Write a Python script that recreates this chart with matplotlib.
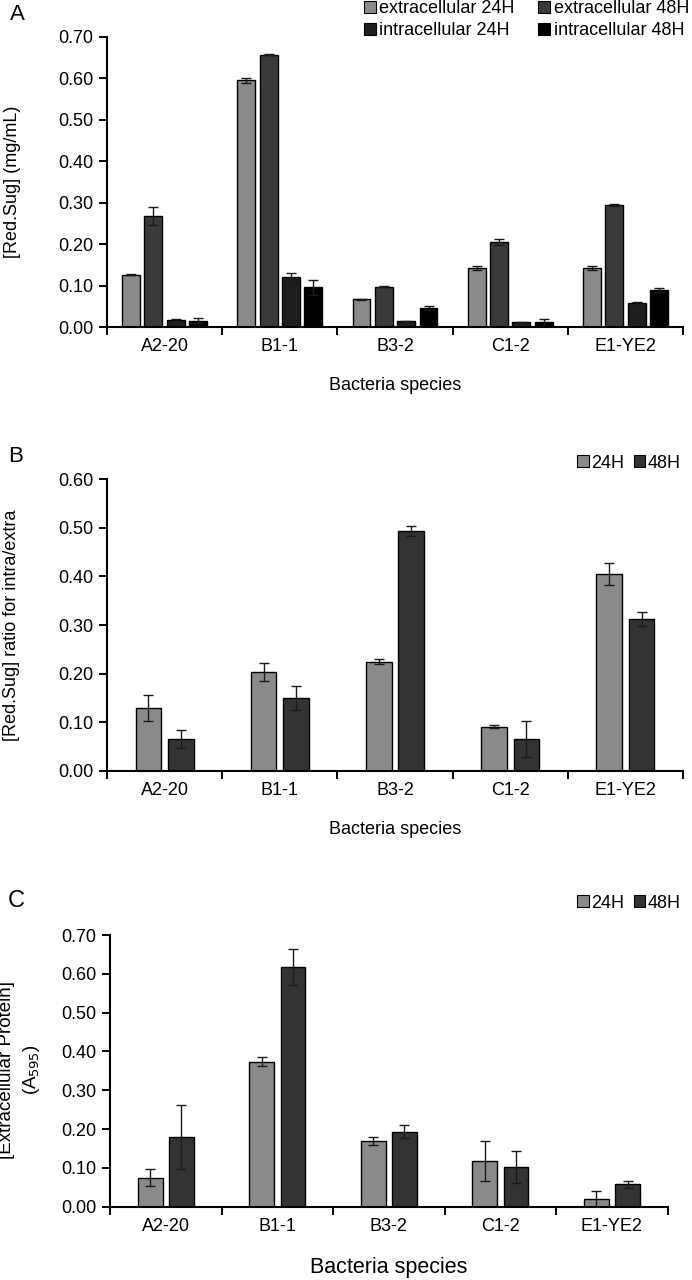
import matplotlib
matplotlib.use("Agg")
import matplotlib.pyplot as plt
import numpy as np
from matplotlib.patches import Patch
from matplotlib.ticker import FormatStrFormatter

plt.rcParams['font.family'] = ['Liberation Sans', 'DejaVu Sans']

species = ["A2-20", "B1-1", "B3-2", "C1-2", "E1-YE2"]

# Panel A: reducing sugar (mg/mL)
a_labels = ["extracellular 24H", "extracellular 48H", "intracellular 24H", "intracellular 48H"]
a_ext24 = [0.127, 0.595, 0.067, 0.143, 0.143]
a_ext48 = [0.268, 0.657, 0.098, 0.205, 0.294]
a_int24 = [0.017, 0.120, 0.014, 0.012, 0.058]
a_int48 = [0.016, 0.096, 0.046, 0.012, 0.089]
a_ext24_err = [0.002, 0.006, 0.002, 0.004, 0.004]
a_ext48_err = [0.022, 0.002, 0.002, 0.007, 0.003]
a_int24_err = [0.003, 0.011, 0.001, 0.001, 0.002]
a_int48_err = [0.005, 0.018, 0.004, 0.008, 0.005]

# Panel B: ratio intra/extra
b_labels = ["24H", "48H"]
b_24 = [0.129, 0.203, 0.224, 0.091, 0.405]
b_48 = [0.065, 0.150, 0.494, 0.065, 0.312]
b_24_err = [0.026, 0.019, 0.005, 0.004, 0.023]
b_48_err = [0.018, 0.025, 0.010, 0.037, 0.014]

# Panel C: extracellular protein (A595)
c_24 = [0.075, 0.374, 0.169, 0.118, 0.020]
c_48 = [0.179, 0.618, 0.193, 0.102, 0.058]
c_24_err = [0.022, 0.012, 0.011, 0.051, 0.021]
c_48_err = [0.082, 0.046, 0.017, 0.041, 0.009]

W, H = 692, 1280
fig = plt.figure(figsize=(W / 100, H / 100), dpi=100)

def axrect(l, r, t, b):
    return [l / W, 1 - b / H, (r - l) / W, (b - t) / H]

FS = 13
ERR_KW = dict(ecolor='#1a1a1a', elinewidth=1.0, capsize=3.5, capthick=1.0)

def style_axis(ax, ymax, step):
    n = len(species)
    ax.set_xlim(-0.5, n - 0.5)
    ax.set_ylim(0, ymax)
    ax.set_yticks(np.arange(0, ymax + 1e-9, step))
    ax.yaxis.set_major_formatter(FormatStrFormatter('%.2f'))
    ax.set_xticks(np.arange(-0.5, n, 1.0))
    ax.set_xticklabels([])
    ax.set_xticks(np.arange(n), minor=True)
    ax.set_xticklabels(species, minor=True)
    ax.tick_params(axis='x', which='major', direction='out', length=6, width=1.4)
    ax.tick_params(axis='x', which='minor', length=0, pad=8, labelsize=FS)
    ax.tick_params(axis='y', direction='out', length=6, width=1.4, labelsize=FS, pad=4)
    for s in ['top', 'right']:
        ax.spines[s].set_visible(False)
    for s in ['left', 'bottom']:
        ax.spines[s].set_linewidth(1.5)
    ax.spines['left'].set_bounds(0, ymax)

x = np.arange(len(species))

# ---------- Panel A ----------
axA = fig.add_axes(axrect(107, 683, 36.8, 327.2))
a_vals = [a_ext24, a_ext48, a_int24, a_int48]
a_errs = [a_ext24_err, a_ext48_err, a_int24_err, a_int48_err]
a_cols = ['#8a8a8a', '#3a3a3a', '#1e1e1e', '#000000']
stepA, wA = 0.194, 0.155
handlesA = []
for i, (v, e, c, lab) in enumerate(zip(a_vals, a_errs, a_cols, a_labels)):
    axA.bar(x + (i - 1.5) * stepA, v, wA, yerr=e, color=c, edgecolor='black',
            linewidth=1.0, error_kw=ERR_KW, zorder=2)
    handlesA.append(Patch(facecolor=c, edgecolor='black', linewidth=0.8, label=lab))
style_axis(axA, 0.70, 0.10)
axA.set_ylabel("[Red.Sug] (mg/mL)", fontsize=FS)
axA.yaxis.set_label_coords(-(107 - 21) / 576, 0.5)
axA.set_xlabel("Bacteria species", fontsize=13)
axA.xaxis.set_label_coords(0.5, -(386 - 327.2) / 290.4)
fig.text(17 / W, 1 - 15 / H, "A", fontsize=16, ha='center', va='center')
fig.legend(handles=[handlesA[0], handlesA[2], handlesA[1], handlesA[3]], ncol=2,
           loc='upper right', bbox_to_anchor=(689 / W, 1 - 0 / H), frameon=False,
           fontsize=FS, handlelength=0.65, handleheight=0.65, handletextpad=0.2,
           columnspacing=1.3, labelspacing=0.3, borderpad=0.0, borderaxespad=0)

# ---------- Panel B ----------
axB = fig.add_axes(axrect(107, 683, 479.3, 770.7))
offBC, wBC = 0.14, 0.222
b_cols = ['#8a8a8a', '#333333']
handlesB = []
for i, (v, e, c, lab) in enumerate(zip([b_24, b_48], [b_24_err, b_48_err], b_cols, b_labels)):
    axB.bar(x + (2 * i - 1) * offBC, v, wBC, yerr=e, color=c, edgecolor='black',
            linewidth=1.0, error_kw=ERR_KW, zorder=2)
    handlesB.append(Patch(facecolor=c, edgecolor='black', linewidth=0.8, label=lab))
style_axis(axB, 0.60, 0.10)
axB.set_ylabel("[Red.Sug] ratio for intra/extra", fontsize=FS)
axB.yaxis.set_label_coords(-(107 - 20) / 576, 0.5)
axB.set_xlabel("Bacteria species", fontsize=13)
axB.xaxis.set_label_coords(0.5, -(829 - 770.7) / 291.4)
fig.text(16 / W, 1 - 456 / H, "B", fontsize=16, ha='center', va='center')
fig.legend(handles=handlesB, ncol=2, loc='center right',
           bbox_to_anchor=(681 / W, 1 - 463 / H), frameon=False,
           fontsize=FS, handlelength=0.65, handleheight=0.65, handletextpad=0.15,
           columnspacing=0.5, borderpad=0.0, borderaxespad=0)

# ---------- Panel C ----------
axC = fig.add_axes(axrect(110, 667.7, 935, 1206.7))
for i, (v, e, c) in enumerate(zip([c_24, c_48], [c_24_err, c_48_err], b_cols)):
    axC.bar(x + (2 * i - 1) * offBC, v, wBC, yerr=e, color=c, edgecolor='black',
            linewidth=1.0, error_kw=ERR_KW, zorder=2)
style_axis(axC, 0.70, 0.10)
fig.text(7 / W, 1 - 1070 / H, "[Extracellular Protein]", fontsize=13.5,
         rotation=90, ha='center', va='center')
fig.text(31 / W, 1 - 1070 / H, "(A$_{595}$)", fontsize=13.5,
         rotation=90, ha='center', va='center')
axC.set_xlabel("Bacteria species", fontsize=15.5)
axC.xaxis.set_label_coords(0.5, -(1268 - 1206.7) / 271.7)
axC.xaxis.label.set_va('center')
fig.text(16 / W, 1 - 901 / H, "C", fontsize=17, ha='center', va='center')
fig.legend(handles=handlesB, ncol=2, loc='center right',
           bbox_to_anchor=(681 / W, 1 - 903 / H), frameon=False,
           fontsize=FS, handlelength=0.65, handleheight=0.65, handletextpad=0.15,
           columnspacing=0.5, borderpad=0.0, borderaxespad=0)

for ax in (axA, axB):
    ax.xaxis.label.set_va('center')

fig.savefig("out.png", dpi=100)
